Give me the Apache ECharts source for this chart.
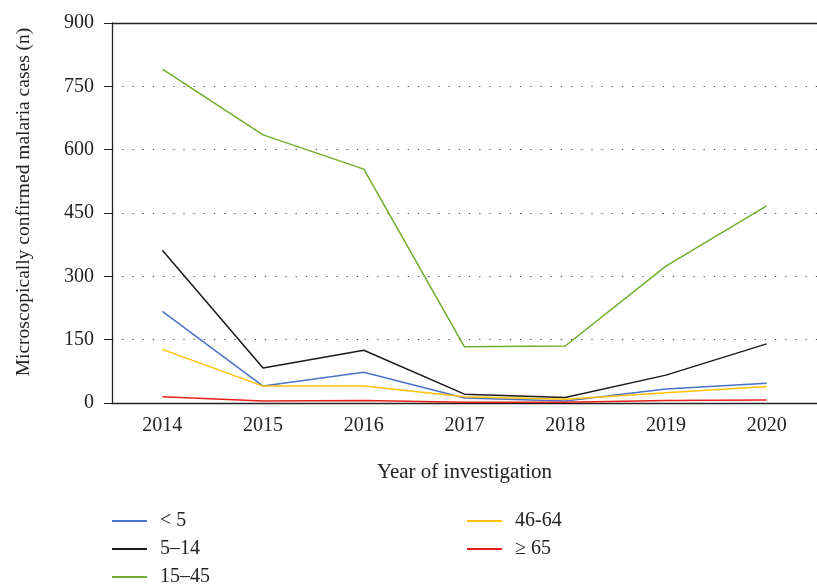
<!DOCTYPE html>
<html>
<head>
<meta charset="utf-8">
<script src="https://cdn.jsdelivr.net/npm/echarts@6/dist/echarts.min.js"></script>
<style>
  html, body { margin: 0; padding: 0; background: #fff; }
  #chart { width: 817px; height: 586px; }
</style>
</head>
<body>
<div id="chart"></div>
<script>
const years = ['2014', '2015', '2016', '2017', '2018', '2019', '2020'];
const under5 = [217, 40, 73, 12, 5, 33, 47];
const age5to14 = [362, 83, 125, 21, 13, 66, 140];
const age15to45 = [791, 635, 554, 133, 135, 324, 467];
const age46to64 = [127, 40, 40, 15, 9, 24, 39];
const age65plus = [15, 5, 6, 2, 2, 6, 7];
const yTicks = [0, 150, 300, 450, 600, 750, 900];

const font = 'Liberation Serif';
const axisColor = '#222';

const mkSeries = (name, data, color) => ({
  name: name,
  type: 'line',
  data: data,
  symbol: 'none',
  lineStyle: {width: 1.5, color: color},
  itemStyle: {color: color}
})

const legendCommon = {
  orient: 'vertical',
  top: 511,
  height: 100,
  padding: 0,
  icon: 'rect',
  itemWidth: 35,
  itemHeight: 2,
  itemGap: 8,
  textStyle: {fontFamily: font, fontSize: 20, color: '#222', padding: [0, 0, 0, 8]}
}

const chart = echarts.init(document.getElementById('chart'))
chart.setOption({
  animation: false,
  grid: {left: 112, right: -6, top: 23, bottom: 183},
  legend: [
    Object.assign({left: 112, data: ['< 5', '5–14', '15–45']}, legendCommon),
    Object.assign({left: 467, data: ['46-64', '≥ 65']}, legendCommon)
  ],
  xAxis: [
    {
      type: 'category',
      data: years,
      boundaryGap: true,
      name: 'Year of investigation',
      nameLocation: 'middle',
      nameGap: 59,
      nameTextStyle: {fontFamily: font, fontSize: 21, color: '#222'},
      axisLine: {lineStyle: {color: axisColor, width: 1.3}},
      axisTick: {alignWithLabel: true, length: 6, lineStyle: {color: axisColor}},
      axisLabel: {fontFamily: font, fontSize: 20, color: '#222', margin: 13}
    },
    {
      type: 'category',
      data: years,
      position: 'top',
      axisLine: {lineStyle: {color: axisColor, width: 1.3}},
      axisTick: {show: false},
      axisLabel: {show: false}
    }
  ],
  yAxis: {
    type: 'value',
    min: yTicks[0],
    max: yTicks[yTicks.length - 1],
    interval: 150,
    name: 'Microscopically confirmed malaria cases (n)',
    nameLocation: 'middle',
    nameGap: 78,
    nameTextStyle: {fontFamily: font, fontSize: 19.5, color: '#222', padding: [0, 0, 0, 22]},
    axisLine: {show: true, lineStyle: {color: axisColor, width: 1.3}},
    axisTick: {show: true, length: 8, lineStyle: {color: axisColor}},
    axisLabel: {fontFamily: font, fontSize: 20, color: '#222', margin: 18},
    splitLine: {show: true, lineStyle: {color: '#444', type: [1.2, 9], width: 1.2}}
  },
  series: [
    mkSeries('< 5', under5, '#4a72c8'),
    mkSeries('5–14', age5to14, '#1a1a1a'),
    mkSeries('15–45', age15to45, '#6fae2a'),
    mkSeries('46-64', age46to64, '#ffc000'),
    mkSeries('≥ 65', age65plus, '#e3201b')
  ]
})
</script>
</body>
</html>
